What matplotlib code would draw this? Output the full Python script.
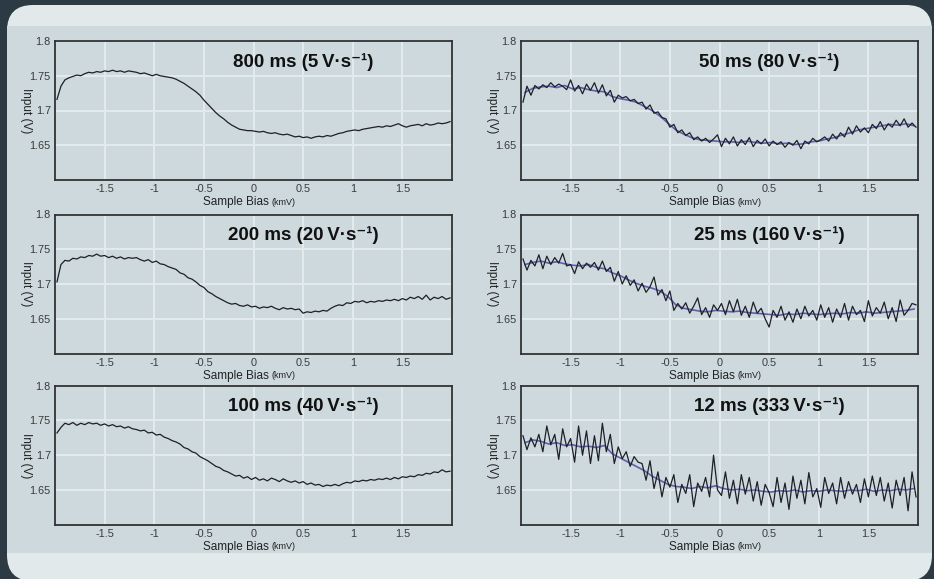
import numpy as np
import matplotlib
matplotlib.use("Agg")
import matplotlib.pyplot as plt
from matplotlib.patches import FancyBboxPatch, Rectangle

# sample bias (kmV), one reading every 0.04
bias = np.linspace(-1.98, 1.98, 100)
bias_blue = np.linspace(-1.96, 1.96, 50)

input_800 = [1.716, 1.735, 1.744, 1.747, 1.749, 1.751, 1.750, 1.753, 1.755, 1.754,
             1.756, 1.755, 1.757, 1.756, 1.758, 1.756, 1.757, 1.755, 1.757, 1.756,
             1.755, 1.753, 1.754, 1.752, 1.750, 1.752, 1.750, 1.749, 1.748, 1.747,
             1.745, 1.742, 1.739, 1.735, 1.731, 1.727, 1.722, 1.715, 1.709, 1.703,
             1.697, 1.692, 1.688, 1.683, 1.679, 1.676, 1.673, 1.672, 1.671, 1.671,
             1.670, 1.669, 1.670, 1.668, 1.667, 1.668, 1.666, 1.665, 1.666, 1.664,
             1.662, 1.663, 1.661, 1.662, 1.660, 1.662, 1.663, 1.662, 1.664, 1.663,
             1.665, 1.667, 1.668, 1.670, 1.671, 1.672, 1.671, 1.673, 1.674, 1.675,
             1.676, 1.677, 1.676, 1.678, 1.677, 1.679, 1.681, 1.678, 1.676, 1.678,
             1.679, 1.680, 1.678, 1.681, 1.679, 1.680, 1.682, 1.681, 1.682, 1.684]

input_200 = [1.703, 1.728, 1.734, 1.733, 1.737, 1.736, 1.739, 1.738, 1.741, 1.740,
             1.743, 1.740, 1.741, 1.738, 1.740, 1.737, 1.739, 1.736, 1.738, 1.737,
             1.738, 1.735, 1.733, 1.735, 1.731, 1.733, 1.729, 1.728, 1.725, 1.723,
             1.721, 1.716, 1.714, 1.709, 1.707, 1.703, 1.698, 1.695, 1.689, 1.686,
             1.682, 1.679, 1.676, 1.673, 1.671, 1.672, 1.669, 1.668, 1.670, 1.667,
             1.668, 1.665, 1.667, 1.666, 1.668, 1.665, 1.663, 1.666, 1.664, 1.665,
             1.663, 1.664, 1.658, 1.660, 1.659, 1.661, 1.660, 1.662, 1.661, 1.665,
             1.668, 1.670, 1.669, 1.673, 1.672, 1.675, 1.674, 1.676, 1.673, 1.675,
             1.674, 1.676, 1.675, 1.677, 1.676, 1.678, 1.676, 1.679, 1.677, 1.681,
             1.679, 1.682, 1.678, 1.684, 1.677, 1.681, 1.679, 1.682, 1.678, 1.680]

input_100 = [1.732, 1.740, 1.746, 1.744, 1.747, 1.743, 1.746, 1.744, 1.747, 1.745,
             1.746, 1.743, 1.745, 1.742, 1.744, 1.741, 1.742, 1.739, 1.741, 1.738,
             1.737, 1.735, 1.736, 1.732, 1.733, 1.729, 1.730, 1.726, 1.724, 1.721,
             1.719, 1.716, 1.711, 1.709, 1.705, 1.703, 1.698, 1.695, 1.692, 1.688,
             1.684, 1.682, 1.678, 1.676, 1.673, 1.670, 1.671, 1.667, 1.669, 1.665,
             1.668, 1.664, 1.666, 1.663, 1.667, 1.665, 1.662, 1.666, 1.663, 1.661,
             1.663, 1.660, 1.662, 1.658, 1.660, 1.657, 1.658, 1.655, 1.657, 1.656,
             1.658, 1.656, 1.659, 1.661, 1.660, 1.663, 1.662, 1.664, 1.663, 1.665,
             1.664, 1.666, 1.665, 1.667, 1.665, 1.668, 1.666, 1.669, 1.668, 1.670,
             1.669, 1.672, 1.671, 1.674, 1.673, 1.676, 1.675, 1.679, 1.676, 1.677]

input_50 = [1.712, 1.735, 1.722, 1.736, 1.731, 1.737, 1.733, 1.740, 1.734, 1.738,
            1.735, 1.730, 1.744, 1.728, 1.736, 1.724, 1.738, 1.729, 1.740, 1.725,
            1.737, 1.721, 1.729, 1.712, 1.722, 1.718, 1.720, 1.714, 1.716, 1.710,
            1.712, 1.702, 1.708, 1.696, 1.698, 1.690, 1.688, 1.676, 1.680, 1.668,
            1.672, 1.664, 1.668, 1.658, 1.662, 1.656, 1.660, 1.654, 1.659, 1.665,
            1.648, 1.660, 1.652, 1.662, 1.649, 1.658, 1.651, 1.661, 1.648, 1.657,
            1.652, 1.659, 1.649, 1.656, 1.651, 1.655, 1.647, 1.654, 1.650, 1.657,
            1.645, 1.656, 1.652, 1.660, 1.655, 1.658, 1.662, 1.656, 1.666, 1.659,
            1.668, 1.662, 1.676, 1.666, 1.678, 1.669, 1.675, 1.668, 1.680, 1.674,
            1.684, 1.672, 1.681, 1.676, 1.686, 1.678, 1.688, 1.676, 1.682, 1.676]

input_25 = [1.736, 1.720, 1.734, 1.726, 1.742, 1.722, 1.740, 1.728, 1.738, 1.730,
            1.744, 1.726, 1.728, 1.715, 1.732, 1.722, 1.730, 1.724, 1.731, 1.720,
            1.733, 1.718, 1.724, 1.704, 1.718, 1.700, 1.712, 1.698, 1.706, 1.690,
            1.701, 1.688, 1.696, 1.710, 1.684, 1.692, 1.676, 1.690, 1.662, 1.672,
            1.664, 1.673, 1.658, 1.668, 1.680, 1.656, 1.666, 1.652, 1.670, 1.662,
            1.672, 1.656, 1.676, 1.660, 1.678, 1.655, 1.668, 1.652, 1.674, 1.658,
            1.665, 1.650, 1.638, 1.662, 1.652, 1.668, 1.648, 1.660, 1.645, 1.664,
            1.650, 1.668, 1.654, 1.662, 1.648, 1.670, 1.652, 1.666, 1.645, 1.664,
            1.652, 1.672, 1.648, 1.668, 1.656, 1.662, 1.646, 1.676, 1.654, 1.666,
            1.658, 1.674, 1.650, 1.666, 1.646, 1.677, 1.655, 1.662, 1.672, 1.670]

input_12 = [1.728, 1.708, 1.725, 1.712, 1.730, 1.705, 1.742, 1.715, 1.730, 1.694,
            1.738, 1.712, 1.724, 1.690, 1.742, 1.700, 1.735, 1.688, 1.728, 1.692,
            1.746, 1.705, 1.730, 1.688, 1.712, 1.695, 1.705, 1.684, 1.698, 1.690,
            1.688, 1.664, 1.692, 1.652, 1.676, 1.640, 1.668, 1.654, 1.672, 1.632,
            1.658, 1.645, 1.672, 1.626, 1.660, 1.648, 1.668, 1.640, 1.700, 1.650,
            1.642, 1.676, 1.638, 1.664, 1.630, 1.672, 1.644, 1.668, 1.634, 1.662,
            1.628, 1.658, 1.646, 1.626, 1.668, 1.632, 1.660, 1.622, 1.670, 1.638,
            1.664, 1.630, 1.675, 1.640, 1.652, 1.625, 1.668, 1.645, 1.660, 1.630,
            1.668, 1.638, 1.662, 1.644, 1.658, 1.632, 1.666, 1.640, 1.670, 1.642,
            1.668, 1.634, 1.660, 1.624, 1.664, 1.642, 1.668, 1.620, 1.676, 1.640]

# second (blue) sweep, visible on the fast scans
blue_50 = [1.726, 1.732, 1.734, 1.735, 1.733, 1.736, 1.731, 1.733, 1.730, 1.728,
           1.727, 1.720, 1.717, 1.715, 1.712, 1.706, 1.700, 1.692, 1.682, 1.672,
           1.666, 1.661, 1.658, 1.657, 1.656, 1.655, 1.655, 1.654, 1.656, 1.654,
           1.653, 1.654, 1.652, 1.653, 1.651, 1.652, 1.655, 1.656, 1.659, 1.661,
           1.665, 1.668, 1.672, 1.674, 1.676, 1.678, 1.680, 1.679, 1.681, 1.678]

blue_25 = [1.728, 1.731, 1.733, 1.730, 1.732, 1.729, 1.727, 1.726, 1.728, 1.724,
           1.722, 1.716, 1.712, 1.706, 1.701, 1.697, 1.694, 1.690, 1.682, 1.670,
           1.665, 1.663, 1.661, 1.660, 1.662, 1.661, 1.660, 1.661, 1.659, 1.658,
           1.657, 1.656, 1.655, 1.657, 1.656, 1.658, 1.657, 1.656, 1.657, 1.658,
           1.657, 1.659, 1.658, 1.660, 1.658, 1.659, 1.660, 1.661, 1.662, 1.664]

blue_12 = [1.718, 1.722, 1.720, 1.716, 1.718, 1.714, 1.715, 1.712, 1.713, 1.711,
           1.714, 1.702, 1.696, 1.690, 1.684, 1.678, 1.670, 1.664, 1.658, 1.655,
           1.654, 1.652, 1.655, 1.653, 1.656, 1.652, 1.650, 1.651, 1.649, 1.650,
           1.648, 1.647, 1.649, 1.648, 1.650, 1.647, 1.649, 1.648, 1.650, 1.649,
           1.648, 1.650, 1.649, 1.651, 1.648, 1.650, 1.649, 1.651, 1.650, 1.652]

titles = ["800 ms (5\u2009V·s\u207b\u00b9)", "200 ms (20\u2009V·s\u207b\u00b9)",
          "100 ms (40\u2009V·s\u207b\u00b9)", "50 ms (80\u2009V·s\u207b\u00b9)",
          "25 ms (160\u2009V·s\u207b\u00b9)", "12 ms (333\u2009V·s\u207b\u00b9)"]
traces = [input_800, input_200, input_100, input_50, input_25, input_12]
blues = [None, None, None, blue_50, blue_25, blue_12]

xticks = [-1.5, -1, -0.5, 0, 0.5, 1, 1.5]
xticklabels = ["-1.5", "-1", "-0.5", "0", "0.5", "1", "1.5"]
yticks = [1.65, 1.7, 1.75, 1.8]
yticklabels = ["1.65", "1.7", "1.75", "1.8"]

W, H = 934, 579
dark = "#2c3a44"
light = "#e2e9ea"
panel = "#cdd9dd"
narrow = ["Liberation Sans", "DejaVu Sans"]
bold = ["Liberation Sans", "DejaVu Sans"]

fig = plt.figure(figsize=(W / 100, H / 100), dpi=100, facecolor=dark)

bg = fig.add_axes([0, 0, 1, 1])
bg.set_xlim(0, W)
bg.set_ylim(H, 0)
bg.axis("off")
bg.add_patch(FancyBboxPatch((7, 5), 925, 576, boxstyle="round,pad=0,rounding_size=26",
                            fc=light, ec="none"))
bg.add_patch(Rectangle((7, 26), 925, 527, fc=panel, ec="none"))

lefts = [55, 521]
tops = [41, 214.5, 385.7]
aw, ah = 397, 139

for k in range(6):
    col, row = k // 3, k % 3
    ax = fig.add_axes([lefts[col] / W, 1 - (tops[row] + ah) / H, aw / W, ah / H])
    ax.set_facecolor(panel)
    if blues[k] is not None:
        ax.plot(bias_blue, blues[k], color="#4a4aa6", lw=1.2, alpha=0.85, zorder=2)
    ax.plot(bias, traces[k], color="#1f1f26", lw=0.9, zorder=3)
    ax.set_xlim(-2, 2)
    ax.set_ylim(1.6, 1.8)
    ax.set_xticks(xticks)
    ax.set_xticklabels(xticklabels, family=narrow, fontsize=7.8, color="#3a3a3a")
    ax.set_yticks(yticks)
    ax.set_yticklabels(yticklabels, family=narrow, fontsize=7.8, color="#3a3a3a")
    ax.tick_params(length=0, pad=3)
    ax.grid(True, color="#e4ebed", lw=1.4)
    ax.set_axisbelow(True)
    for s in ax.spines.values():
        s.set_color("#333333")
        s.set_linewidth(1.3)
    ax.text(0.625, 0.85, titles[k], transform=ax.transAxes, ha="center", va="center",
            fontsize=13.5, fontweight="bold", family=bold, color="#111111")
    ax.text(0.538, -0.16, "Sample Bias", transform=ax.transAxes, ha="right", va="center",
            fontsize=8.5, family=narrow, color="#222222")
    ax.text(0.546, -0.16, "(kmV)", transform=ax.transAxes, ha="left", va="center",
            fontsize=6.5, family=narrow, color="#222222")
    ax.text(-0.072, 0.5, "Input (V)", transform=ax.transAxes, ha="center", va="center",
            rotation=270, fontsize=8.5, family=narrow, color="#222222")

fig.savefig("out.png", dpi=100, facecolor=dark)
